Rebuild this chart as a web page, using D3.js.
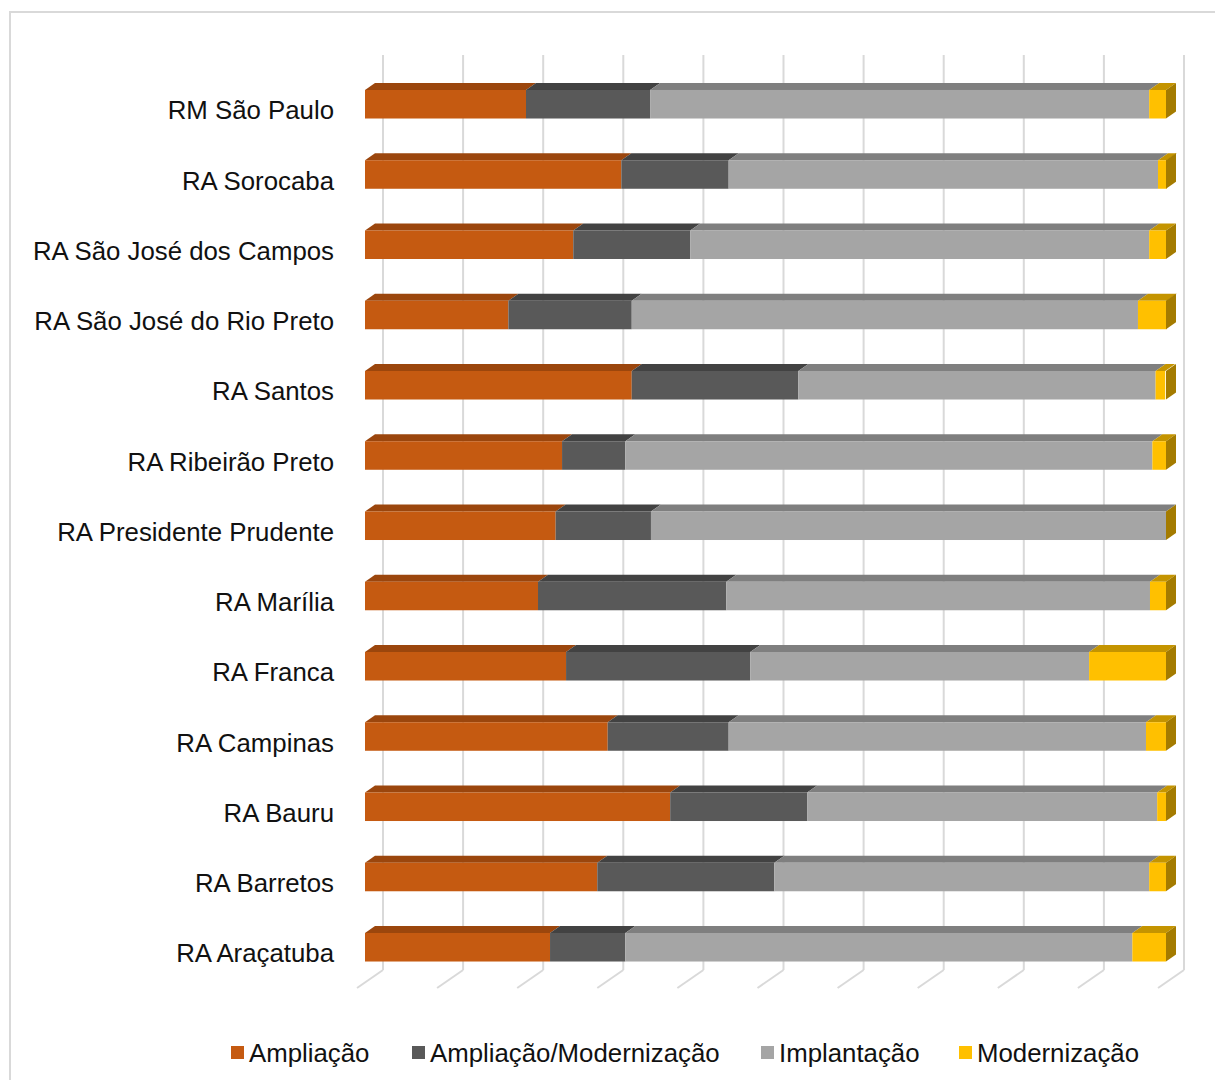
<!DOCTYPE html>
<html>
<head>
<meta charset="utf-8">
<script src="https://cdn.jsdelivr.net/npm/d3@7"></script>
<style>
  html, body { margin: 0; padding: 0; background: #fff; }
  svg { display: block; }
</style>
</head>
<body>
<svg id="chart" width="1215" height="1080"></svg>
<script>
// ---- data (percent of each region) ----
const categories = [
  "RM São Paulo", "RA Sorocaba", "RA São José dos Campos", "RA São José do Rio Preto",
  "RA Santos", "RA Ribeirão Preto", "RA Presidente Prudente", "RA Marília",
  "RA Franca", "RA Campinas", "RA Bauru", "RA Barretos", "RA Araçatuba"
];
const seriesNames = ["Ampliação", "Ampliação/Modernização", "Implantação", "Modernização"];
const ampliacao       = [20.1, 32.0, 26.0, 17.9, 33.3, 24.6, 23.8, 21.6, 25.1, 30.3, 38.1, 29.0, 23.1];
const amplModern      = [15.5, 13.4, 14.6, 15.4, 20.8,  7.9, 11.9, 23.5, 23.0, 15.1, 17.1, 22.1,  9.4];
const implantacao     = [62.3, 53.6, 57.3, 63.2, 44.6, 65.8, 64.3, 52.9, 42.3, 52.1, 43.7, 46.8, 63.3];
const modernizacao    = [ 2.1,  1.1,  2.1,  3.6,  1.2,  1.7,  0.0,  2.0,  9.6,  2.5,  1.1,  2.1,  4.2];
const xTicks = [0, 10, 20, 30, 40, 50, 60, 70, 80, 90, 100];

const frontColors = ["#C55A11", "#595959", "#A5A5A5", "#FFC000"];
const topColors   = ["#9B460D", "#424242", "#7F7F7F", "#C49400"];
const sideColor   = "#A47B00";

const svg = d3.select("#chart");
const FONT = "'Liberation Sans', Arial, sans-serif";
const FS = 25.8;

// outer frame
svg.append("rect").attr("x", 10).attr("y", 12).attr("width", 1220).attr("height", 1090)
  .attr("fill", "none").attr("stroke", "#D9D9D9").attr("stroke-width", 2);

// ---- geometry of the 3D projection ----
const floorX0 = 357;                 // front floor origin (0%)
const wall = {dx: 26, dy: -18};      // back wall offset
const barFront = {dx: 8};            // bar front plane offset in x
const depth = {dx: 10, dy: -7};      // bar depth
const floorY = 988;                  // front floor y
const wallTop = 55;

const x = d3.scaleLinear().domain([0, 100]).range([floorX0, floorX0 + 801]);
const y = d3.scaleBand().domain(categories).range([55, 996.5])
  .paddingInner(0.594).paddingOuter(0.498);

// stacked data
const table = categories.map((c, i) => ({
  cat: c,
  [seriesNames[0]]: ampliacao[i],
  [seriesNames[1]]: amplModern[i],
  [seriesNames[2]]: implantacao[i],
  [seriesNames[3]]: modernizacao[i]
}));
const stacked = d3.stack().keys(seriesNames)(table);

// ---- gridlines on back wall + floor ----
const grid = svg.append("g");
xTicks.forEach(t => {
  const bx = x(t) + wall.dx;
  grid.append("line").attr("x1", bx).attr("x2", bx)
    .attr("y1", wallTop).attr("y2", floorY + wall.dy)
    .attr("stroke", "#D9D9D9").attr("stroke-width", 2);
  grid.append("line").attr("x1", bx).attr("y1", floorY + wall.dy)
    .attr("x2", x(t)).attr("y2", floorY)
    .attr("stroke", "#D9D9D9").attr("stroke-width", 2);
});

// ---- bars ----
const bars = svg.append("g");
const bh = y.bandwidth();
categories.forEach((c, i) => {
  const g = bars.append("g");
  const y0 = y(c);
  // top faces
  stacked.forEach((s, k) => {
    const [a, b] = s[i];
    const xa = x(a) + barFront.dx, xb = x(b) + barFront.dx;
    g.append("path")
      .attr("d", `M${xa},${y0} L${xb},${y0} L${xb + depth.dx},${y0 + depth.dy} L${xa + depth.dx},${y0 + depth.dy} Z`)
      .attr("fill", topColors[k]);
  });
  // front faces
  stacked.forEach((s, k) => {
    const [a, b] = s[i];
    const xa = x(a) + barFront.dx, xb = x(b) + barFront.dx;
    if (b - a <= 0) return;
    g.append("rect").attr("x", xa).attr("y", y0).attr("width", xb - xa).attr("height", bh)
      .attr("fill", frontColors[k]);
  });
  // right side face
  const end = x(100) + barFront.dx;
  g.append("path")
    .attr("d", `M${end},${y0} L${end + depth.dx},${y0 + depth.dy} L${end + depth.dx},${y0 + bh + depth.dy} L${end},${y0 + bh} Z`)
    .attr("fill", sideColor);
  // category label
  svg.append("text")
    .attr("x", 334).attr("y", y0 + bh / 2 + 6)
    .attr("dy", "0.35em")
    .attr("text-anchor", "end")
    .attr("font-family", FONT).attr("font-size", FS).attr("fill", "#111")
    .text(c);
});

// ---- legend ----
const legendX = [231, 412, 761, 959];
const legend = svg.append("g");
seriesNames.forEach((n, k) => {
  legend.append("rect").attr("x", legendX[k]).attr("y", 1046).attr("width", 13).attr("height", 13)
    .attr("fill", frontColors[k]);
  legend.append("text").attr("x", legendX[k] + 18).attr("y", 1053).attr("dy", "0.35em")
    .attr("font-family", FONT).attr("font-size", FS).attr("fill", "#111")
    .text(n);
});
</script>
</body>
</html>
